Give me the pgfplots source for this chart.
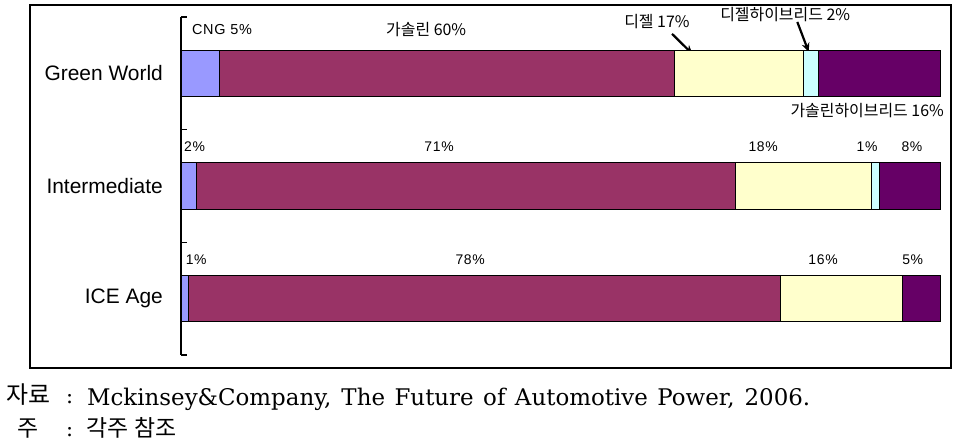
\documentclass[border=0pt]{standalone}
\usepackage{pgfplots}
\pgfplotsset{compat=1.18}
\usetikzlibrary{arrows.meta}
\usepackage{fontspec}
\setmainfont{Liberation Sans}
\newfontfamily\kr{Noto Sans CJK KR}
\newfontfamily\lab[LetterSpace=5]{Liberation Sans}
\newfontfamily\ser{DejaVu Serif}
\definecolor{cng}{HTML}{9999FF}
\definecolor{gas}{HTML}{993366}
\definecolor{dsl}{HTML}{FFFFCC}
\definecolor{dhy}{HTML}{CCFFFF}
\definecolor{ghy}{HTML}{660066}
\begin{document}
\begin{tikzpicture}[x=1bp,y=1bp]
\useasboundingbox (0,0) rectangle (968,-441);
\draw[line width=1.3bp] (30,-5) rectangle (951,-368);
\begin{axis}[
  at={(181bp,-355bp)}, anchor=south west,
  width=759bp, height=338bp, scale only axis,
  xmin=0, xmax=100, ymin=-0.5, ymax=2.5,
  y dir=reverse,
  xbar stacked, bar width=0.41,
  axis x line=none, axis y line*=left,
  ytick={0,1,2}, yticklabels={Green World, Intermediate, ICE Age},
  minor ytick={-0.5,0.5,1.5,2.5},
  major tick length=0pt, minor tick length=6bp, tick align=inside,
  minor tick style={black, line width=1.3bp},
  axis line style={line width=1.3bp},
  yticklabel style={font=\fontsize{21}{21}\selectfont, anchor=east, inner sep=0pt, xshift=-18bp},
  clip=false,
  every axis plot/.append style={draw=black, line width=0.9bp},
]
\addplot[fill=cng] coordinates {(5,0) (2,1) (1,2)};
\addplot[fill=gas] coordinates {(60,0) (71,1) (78,2)};
\addplot[fill=dsl] coordinates {(17,0) (18,1) (16,2)};
\addplot[fill=dhy] coordinates {(2,0) (1,1) (0,2)};
\addplot[fill=ghy] coordinates {(16,0) (8,1) (5,2)};
% Green World annotations
\node[font=\lab\fontsize{14.5}{14.5}\selectfont] at (axis cs:5.4,-0.385) {CNG 5\%};
\node[font=\kr\fontsize{16}{16}\selectfont] at (axis cs:32.3,-0.385) {가솔린 60\%};
\node[font=\kr\fontsize{16}{16}\selectfont] at (axis cs:62.7,-0.456) {디젤 17\%};
\node[font=\kr\fontsize{16}{16}\selectfont] at (axis cs:79.6,-0.518) {디젤하이브리드 2\%};
\node[font=\kr\fontsize{16}{16}\selectfont] at (axis cs:90.4,0.334) {가솔린하이브리드 16\%};
\draw[line width=2.2bp, -{Stealth[length=9bp,width=8bp]}] (axis cs:64.7,-0.35) -- (axis cs:67.4,-0.17);
\draw[line width=2.2bp, -{Stealth[length=9bp,width=8bp]}] (axis cs:81.2,-0.456) -- (axis cs:82.7,-0.19);
% Intermediate
\node[font=\lab\fontsize{14}{14}\selectfont] at (axis cs:1.8,0.654) {2\%};
\node[font=\lab\fontsize{14}{14}\selectfont] at (axis cs:34.0,0.654) {71\%};
\node[font=\lab\fontsize{14}{14}\selectfont] at (axis cs:76.7,0.654) {18\%};
\node[font=\lab\fontsize{14}{14}\selectfont] at (axis cs:90.4,0.654) {1\%};
\node[font=\lab\fontsize{14}{14}\selectfont] at (axis cs:96.3,0.654) {8\%};
% ICE Age
\node[font=\lab\fontsize{14}{14}\selectfont] at (axis cs:2.0,1.657) {1\%};
\node[font=\lab\fontsize{14}{14}\selectfont] at (axis cs:38.1,1.657) {78\%};
\node[font=\lab\fontsize{14}{14}\selectfont] at (axis cs:84.6,1.657) {16\%};
\node[font=\lab\fontsize{14}{14}\selectfont] at (axis cs:96.4,1.657) {5\%};
\end{axis}
% footer
\node[anchor=base west, inner sep=0pt, font=\kr\fontsize{24}{24}\selectfont] at (6,-403) {자료};
\node[anchor=base west, inner sep=0pt, font=\ser\fontsize{21}{21}\selectfont] at (66,-403) {:};
\node[anchor=base west, inner sep=0pt, font=\ser\fontsize{23}{23}\selectfont] at (87,-405) {\makebox[723bp][s]{Mckinsey\&Company, The Future of Automotive Power, 2006.}};
\node[anchor=base west, inner sep=0pt, font=\kr\fontsize{23}{23}\selectfont] at (17,-436) {주};
\node[anchor=base west, inner sep=0pt, font=\ser\fontsize{21}{21}\selectfont] at (66,-436) {:};
\node[anchor=base west, inner sep=0pt, font=\kr\fontsize{23}{23}\selectfont] at (86,-436) {각주\hspace{6bp}참조};
\end{tikzpicture}
\end{document}
